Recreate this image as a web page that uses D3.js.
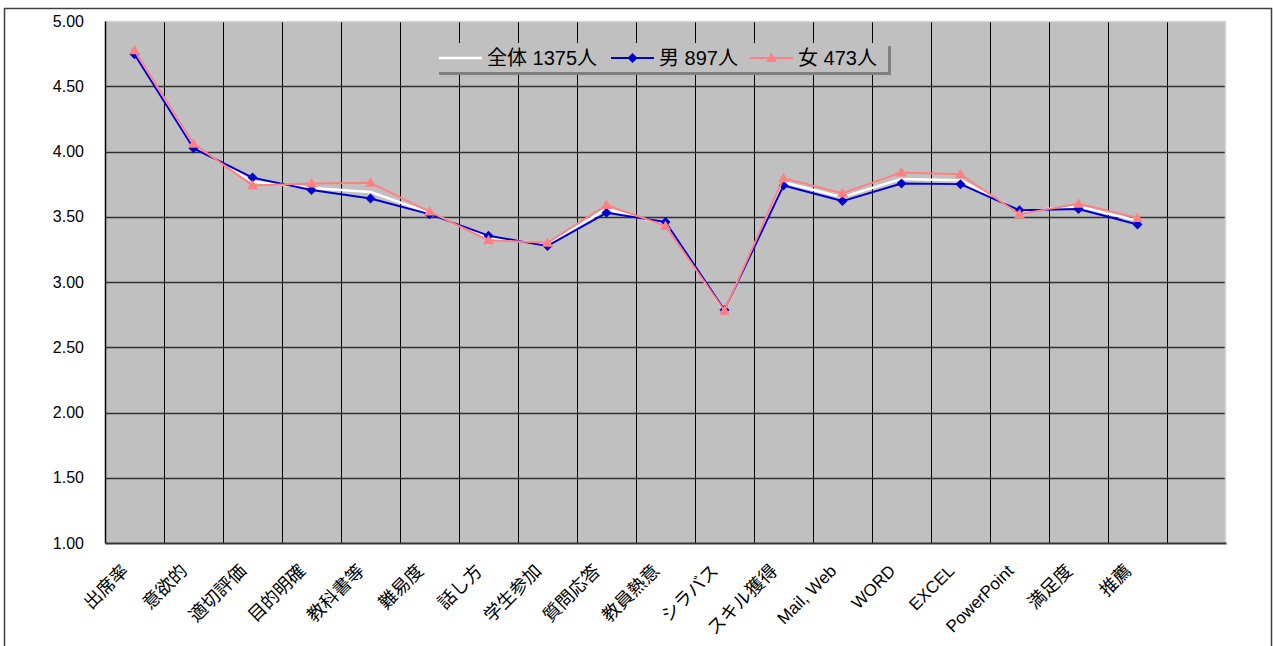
<!DOCTYPE html>
<html>
<head>
<meta charset="utf-8">
<script src="https://cdn.jsdelivr.net/npm/d3@7/dist/d3.min.js"></script>
<style>
  body { margin: 0; background: #fff; }
  svg { display: block; }
</style>
</head>
<body>
<div id="chart"></div>
<script>
// categories (the last slot is empty in the original sheet)
const categories = ['出席率', '意欲的', '適切評価', '目的明確', '教科書等', '難易度', '話し方',
  '学生参加', '質問応答', '教員熱意', 'シラバス', 'スキル獲得', 'Mail, Web', 'WORD', 'EXCEL',
  'PowerPoint', '満足度', '推薦', ''];
const yTicks = [1.0, 1.5, 2.0, 2.5, 3.0, 3.5, 4.0, 4.5, 5.0];

const seriesNames = ['全体 1375人', '男 897人', '女 473人'];
const allValues = [4.76, 4.04, 3.77, 3.72, 3.69, 3.53, 3.34, 3.29, 3.56, 3.44,
  2.78, 3.765, 3.65, 3.79, 3.78, 3.54, 3.58, 3.47];
const maleValues = [4.745, 4.025, 3.80, 3.705, 3.64, 3.52, 3.355, 3.276, 3.53, 3.46,
  2.785, 3.74, 3.62, 3.755, 3.75, 3.55, 3.56, 3.44];
const femaleValues = [4.775, 4.06, 3.74, 3.755, 3.76, 3.54, 3.32, 3.30, 3.59, 3.43,
  2.78, 3.795, 3.68, 3.84, 3.825, 3.52, 3.60, 3.49];

let width = 1273;
let height = 646;
let plotLeft = 105;
let plotRight = 1226;
let plotTop = 21;
let plotBottom = 543;
let latinFont = '"Liberation Sans", Arial, "Noto Sans CJK JP", sans-serif';

let svg = d3.select('#chart')
  .append('svg')
  .attr('width', width)
  .attr('height', height);

// outer chart border
svg.append('rect')
  .attr('x', 4.5)
  .attr('y', 8.5)
  .attr('width', 1267)
  .attr('height', 700)
  .attr('fill', '#fff')
  .attr('stroke', '#404040')
  .attr('stroke-width', 1.5);

let x = d3.scaleBand()
  .domain(categories)
  .range([plotLeft, plotRight]);

let y = d3.scaleLinear()
  .domain([1, 5])
  .range([plotBottom, plotTop]);

// plot area
svg.append('rect')
  .attr('x', plotLeft)
  .attr('y', plotTop)
  .attr('width', plotRight - plotLeft)
  .attr('height', plotBottom - plotTop)
  .attr('fill', '#c0c0c0');

let grid = svg.append('g').attr('class', 'grid');

// vertical gridlines at category boundaries
grid.selectAll('line.v')
  .data(categories.slice(1))
  .enter()
  .append('line')
  .attr('class', 'v')
  .attr('x1', d => x(d) + 0.5)
  .attr('x2', d => x(d) + 0.5)
  .attr('y1', plotTop)
  .attr('y2', plotBottom)
  .attr('stroke', '#000')
  .attr('stroke-width', 1);

// horizontal gridlines
grid.selectAll('line.h')
  .data(yTicks.slice(1, -1))
  .enter()
  .append('line')
  .attr('class', 'h')
  .attr('x1', plotLeft)
  .attr('x2', plotRight)
  .attr('y1', d => Math.round(y(d)) + 0.5)
  .attr('y2', d => Math.round(y(d)) + 0.5)
  .attr('stroke', '#303030')
  .attr('stroke-width', 1.3);

// light top and right edges of the plot area
svg.append('path')
  .attr('d', `M${plotLeft},${plotTop + 0.5} H${plotRight - 0.5} V${plotBottom}`)
  .attr('fill', 'none')
  .attr('stroke', '#d4d4d4')
  .attr('stroke-width', 1.5);

// y axis
let yAxis = d3.axisLeft(y)
  .tickValues(yTicks)
  .tickSize(0)
  .tickPadding(21)
  .tickFormat(d3.format('.2f'));

svg.append('g')
  .attr('transform', `translate(${plotLeft},0)`)
  .call(yAxis)
  .call(g => g.select('.domain').attr('stroke', '#000').attr('stroke-width', 1.5))
  .call(g => g.selectAll('text')
    .attr('font-family', latinFont)
    .attr('font-size', 16)
    .attr('fill', '#000'));

// x axis with rotated labels
let xAxis = d3.axisBottom(x).tickSize(0).tickFormat(d => d);

svg.append('g')
  .attr('transform', `translate(0,${plotBottom})`)
  .call(xAxis)
  .call(g => g.select('.domain').attr('stroke', '#333').attr('stroke-width', 2))
  .call(g => g.selectAll('.tick text')
    .attr('font-family', latinFont)
    .attr('font-size', d => /[A-Za-z]/.test(d) ? 17 : 18)
    .attr('fill', '#000')
    .attr('text-anchor', 'end')
    .attr('dy', 0)
    .attr('y', 0)
    .attr('transform', `translate(${-5},${29}) rotate(-45)`));

// series
let series = [
  { name: seriesNames[0], values: allValues, color: '#ffffff', width: 2.5, marker: null },
  { name: seriesNames[1], values: maleValues, color: '#0000cc', width: 2, marker: 'diamond' },
  { name: seriesNames[2], values: femaleValues, color: '#ff8080', width: 2, marker: 'triangle' }
];

let markerPath = {
  diamond: 'M0,-5L5,0L0,5L-5,0Z',
  triangle: 'M0,-5.5L5.5,4L-5.5,4Z'
};

let cx = (d, i) => x(categories[i]) + x.bandwidth() / 2;

let line = d3.line()
  .x(cx)
  .y(d => y(d));

series.forEach(s => {
  let g = svg.append('g').attr('class', 'series');
  g.append('path')
    .datum(s.values)
    .attr('d', line)
    .attr('fill', 'none')
    .attr('stroke', s.color)
    .attr('stroke-width', s.width)
    .attr('stroke-linejoin', 'round');
  if (s.marker) {
    g.selectAll('path.marker')
      .data(s.values)
      .enter()
      .append('path')
      .attr('class', 'marker')
      .attr('d', markerPath[s.marker])
      .attr('transform', (d, i) => `translate(${cx(d, i)},${y(d)})`)
      .attr('fill', s.color);
  }
});

// legend
let legend = svg.append('g').attr('class', 'legend');
legend.append('rect')
  .attr('x', 439)
  .attr('y', 46)
  .attr('width', 452)
  .attr('height', 29)
  .attr('fill', '#808080');
legend.append('rect')
  .attr('x', 436)
  .attr('y', 43)
  .attr('width', 452)
  .attr('height', 29)
  .attr('fill', '#c0c0c0');

let legendX = [439, 611, 750];
let legendY = 58;
series.forEach((s, i) => {
  let lg = legend.append('g').attr('transform', `translate(${legendX[i]},${legendY})`);
  lg.append('line')
    .attr('x1', 0)
    .attr('x2', 43)
    .attr('stroke', s.color)
    .attr('stroke-width', s.width);
  if (s.marker) {
    lg.append('path')
      .attr('d', markerPath[s.marker])
      .attr('transform', 'translate(21.5,0)')
      .attr('fill', s.color);
  }
  lg.append('text')
    .attr('x', 48)
    .attr('y', 0)
    .attr('dy', '0.36em')
    .attr('font-family', latinFont)
    .attr('font-size', 20)
    .attr('fill', '#000')
    .text(s.name);
});
</script>
</body>
</html>
